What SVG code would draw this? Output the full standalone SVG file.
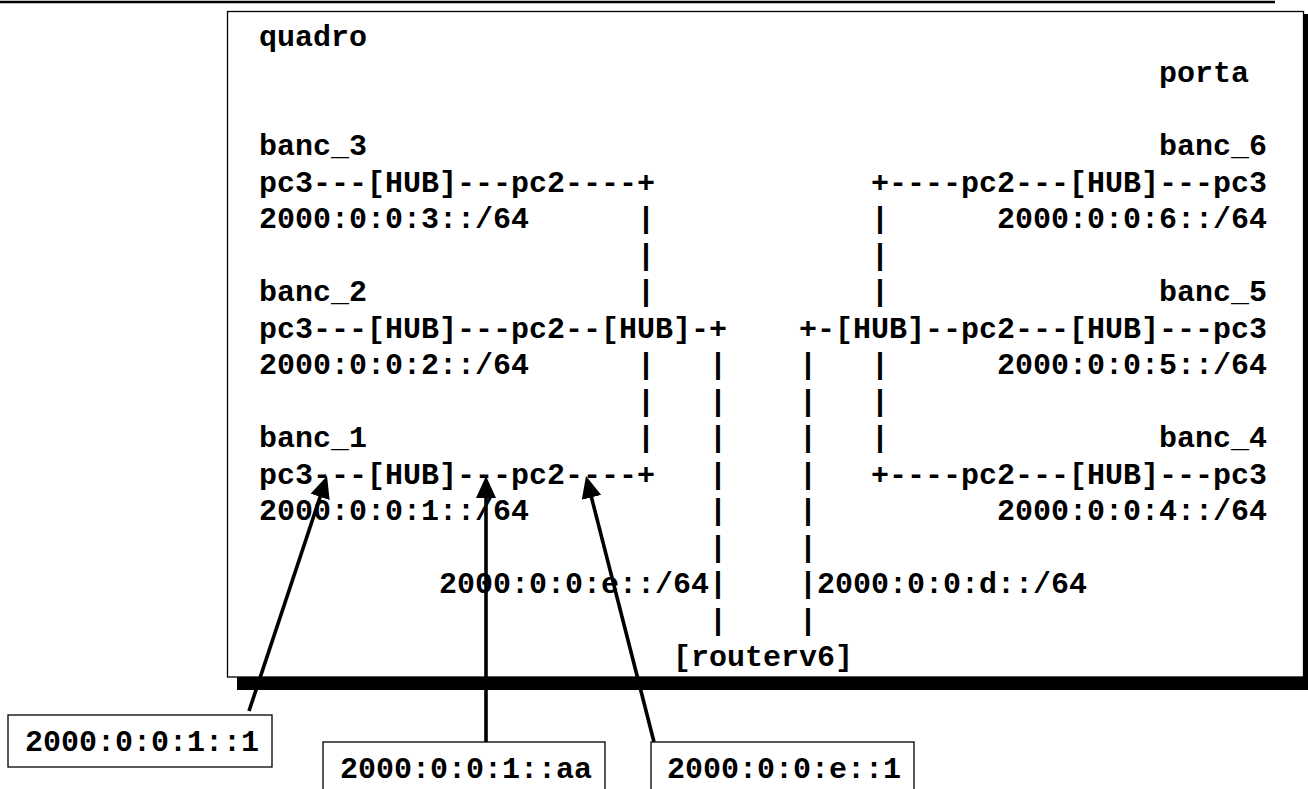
<svg xmlns="http://www.w3.org/2000/svg" width="1308" height="789" viewBox="0 0 1308 789">
<style>
.t{font-family:"Liberation Mono","Courier New",monospace;font-weight:bold;font-size:30px;fill:#000;white-space:pre}
.box{fill:#fff;stroke:#000;stroke-width:1.3}
.arr{stroke:#000;stroke-width:3.6;fill:none;marker-end:url(#ah)}
</style>
<defs>
<marker id="ah" markerUnits="userSpaceOnUse" markerWidth="22" markerHeight="20" refX="12" refY="10" orient="auto">
<path d="M0,0 L22,10 L0,20 z" fill="#000"/>
</marker>
</defs>
<rect x="0" width="1308" height="789" fill="#fff"/>
<line x1="0" y1="2" x2="1275" y2="2" stroke="#000" stroke-width="2.5"/>
<g id="frame">
<rect x="237" y="677" width="1071" height="13" fill="#000"/>
<rect x="1304" y="14" width="4" height="676" fill="#000"/>
<rect class="box" x="227.5" y="11.5" width="1076" height="665.5"/>
</g>
<g id="quadro"><text class="t" x="259" y="45.5">quadro</text></g>
<g id="porta"><text class="t" x="1159" y="82">porta</text></g>
<g id="banc_3">
<text class="t" x="259" y="155">banc_3</text>
<text class="t" x="259" y="191.5">pc3---[HUB]---pc2----+</text>
<text class="t" x="259" y="228">2000:0:0:3::/64</text>
</g>
<g id="banc_6">
<text class="t" x="1159" y="155">banc_6</text>
<text class="t" x="871" y="191.5">+----pc2---[HUB]---pc3</text>
<text class="t" x="997" y="228">2000:0:0:6::/64</text>
</g>
<g id="banc_2">
<text class="t" x="259" y="301">banc_2</text>
<text class="t" x="259" y="337.5">pc3---[HUB]---pc2--[HUB]-+</text>
<text class="t" x="259" y="374">2000:0:0:2::/64</text>
</g>
<g id="banc_5">
<text class="t" x="1159" y="301">banc_5</text>
<text class="t" x="799" y="337.5">+-[HUB]--pc2---[HUB]---pc3</text>
<text class="t" x="997" y="374">2000:0:0:5::/64</text>
</g>
<g id="banc_1">
<text class="t" x="259" y="447">banc_1</text>
<text class="t" x="259" y="483.5">pc3---[HUB]---pc2----+</text>
<text class="t" x="259" y="520">2000:0:0:1::/64</text>
</g>
<g id="banc_4">
<text class="t" x="1159" y="447">banc_4</text>
<text class="t" x="871" y="483.5">+----pc2---[HUB]---pc3</text>
<text class="t" x="997" y="520">2000:0:0:4::/64</text>
</g>
<g id="net_e"><text class="t" x="439" y="593">2000:0:0:e::/64</text></g>
<g id="net_d"><text class="t" x="817" y="593">2000:0:0:d::/64</text></g>
<g id="routerv6"><text class="t" x="673" y="666">[routerv6]</text></g>
<g id="connectors">
<text class="t" x="637" y="228">|</text><text class="t" x="871" y="228">|</text>
<text class="t" x="637" y="264.5">|</text><text class="t" x="871" y="264.5">|</text>
<text class="t" x="637" y="301">|</text><text class="t" x="871" y="301">|</text>
<text class="t" x="637" y="374">|</text><text class="t" x="709" y="374">|</text><text class="t" x="799" y="374">|</text><text class="t" x="871" y="374">|</text>
<text class="t" x="637" y="410.5">|</text><text class="t" x="709" y="410.5">|</text><text class="t" x="799" y="410.5">|</text><text class="t" x="871" y="410.5">|</text>
<text class="t" x="637" y="447">|</text><text class="t" x="709" y="447">|</text><text class="t" x="799" y="447">|</text><text class="t" x="871" y="447">|</text>
<text class="t" x="709" y="483.5">|</text><text class="t" x="799" y="483.5">|</text>
<text class="t" x="709" y="520">|</text><text class="t" x="799" y="520">|</text>
<text class="t" x="709" y="556.5">|</text><text class="t" x="799" y="556.5">|</text>
<text class="t" x="709" y="593">|</text><text class="t" x="799" y="593">|</text>
<text class="t" x="709" y="629.5">|</text><text class="t" x="799" y="629.5">|</text>
<line class="arr" x1="249" y1="711" x2="323.9" y2="485.5"/>
<line class="arr" x1="486" y1="742" x2="486" y2="486"/>
<line class="arr" x1="654" y1="742" x2="588.5" y2="485.7"/>
</g>
<g id="callout_1">
<rect class="box" x="8" y="715" width="264" height="52"/>
<text class="t" x="25" y="751">2000:0:0:1::1</text>
</g>
<g id="callout_2">
<rect class="box" x="323" y="742" width="282" height="60"/>
<text class="t" x="340" y="778">2000:0:0:1::aa</text>
</g>
<g id="callout_3">
<rect class="box" x="651" y="742" width="263" height="60"/>
<text class="t" x="667" y="778">2000:0:0:e::1</text>
</g>
</svg>
